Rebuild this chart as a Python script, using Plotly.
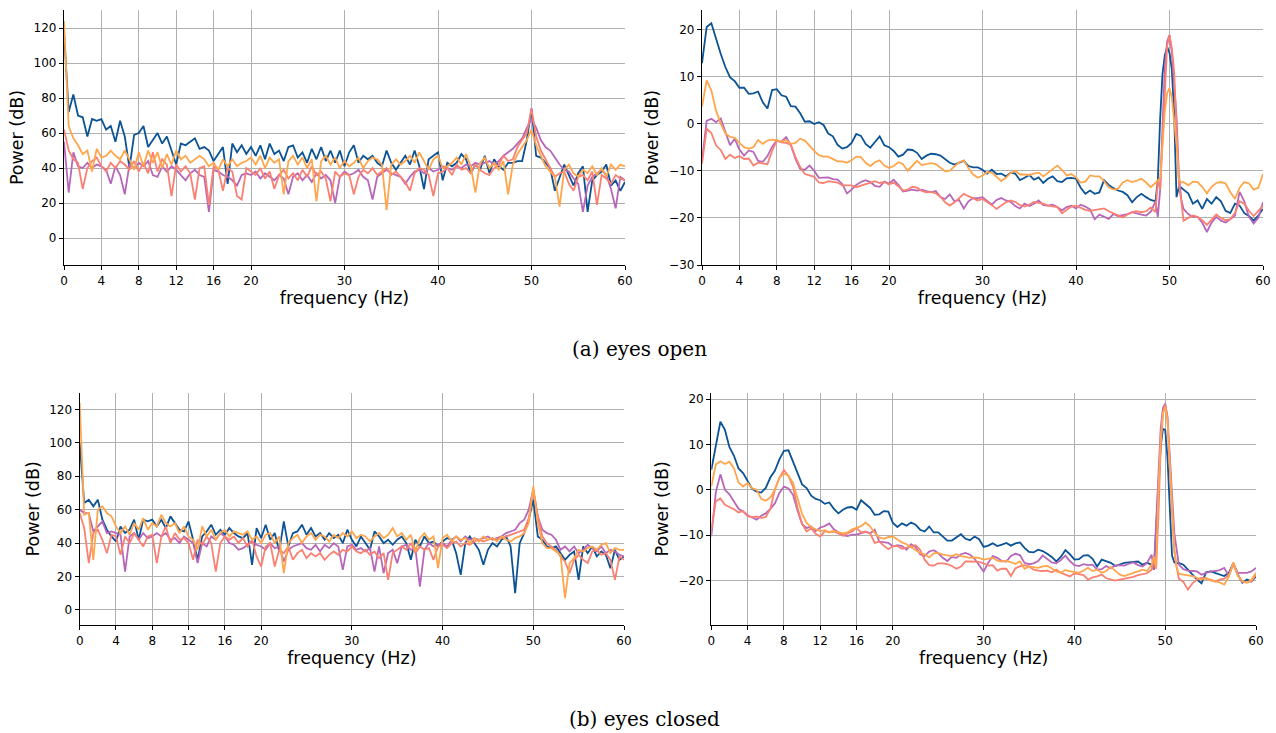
import numpy as np
import plotly.graph_objects as go

# ---------------- data ----------------
RAW_FREQ = np.arange(0, 60.001, 0.5)  # periodogram grid (Hz)
WELCH_FREQ = np.concatenate([np.arange(0, 48.001, 0.5),
                             np.arange(48.5, 51.51, 0.25),
                             np.arange(52, 60.001, 0.5)])  # welch grid (Hz)

X_TICKS = [0, 4, 8, 12, 16, 20, 30, 40, 50, 60]
SERIES_NAMES = ["s1", "s2", "s3", "s4"]

# (a) eyes open - raw periodogram
TL_BLUE = [118, 72, 82, 70, 69, 58, 68, 67, 68, 62,
           64, 55, 67, 58, 40, 59, 60, 64, 52, 56,
           60, 54, 58, 50, 42, 54, 53, 55, 57, 51,
           52, 50, 44, 48, 52, 31, 54, 49, 53, 48,
           52, 47, 53, 45, 54, 48, 50, 44, 52, 53,
           46, 49, 43, 51, 45, 52, 44, 50, 43, 50,
           41, 49, 53, 43, 47, 45, 47, 43, 41, 50,
           43, 39, 43, 47, 42, 50, 41, 28, 45, 47,
           49, 33, 43, 41, 43, 48, 45, 37, 42, 39,
           47, 37, 45, 41, 39, 43, 43, 44, 44, 56,
           74, 47, 46, 43, 40, 27, 35, 42, 36, 30,
           37, 41, 15, 33, 36, 38, 42, 30, 33, 27,
           32]
TL_PURPLE = [55, 26, 49, 41, 40, 43, 40, 42, 41, 39,
             31, 41, 36, 25, 42, 40, 43, 41, 44, 36,
             35, 41, 38, 41, 39, 36, 33, 37, 39, 36,
             35, 15, 39, 38, 36, 35, 33, 30, 36, 37,
             36, 38, 34, 37, 35, 33, 36, 34, 25, 35,
             37, 33, 36, 32, 37, 34, 36, 33, 20, 35,
             38, 36, 37, 39, 35, 33, 22, 35, 37, 39,
             37, 36, 35, 31, 35, 38, 39, 37, 40, 38,
             39, 41, 40, 39, 41, 40, 42, 41, 43, 42,
             43, 44, 42, 44, 47, 49, 51, 54, 57, 63,
             68, 63, 56, 52, 50, 46, 42, 39, 38, 34,
             31, 15, 30, 35, 37, 39, 36, 28, 17, 35,
             33]
TL_SALMON = [62, 50, 45, 43, 28, 40, 44, 46, 41, 38,
             43, 40, 44, 42, 39, 44, 38, 43, 37, 49,
             38, 45, 42, 24, 42, 38, 41, 37, 22, 40,
             41, 19, 41, 39, 27, 40, 38, 24, 22, 40,
             38, 36, 40, 34, 38, 28, 36, 39, 34, 37,
             33, 39, 35, 41, 36, 38, 34, 21, 38, 35,
             37, 36, 25, 35, 39, 37, 40, 36, 38, 40,
             36, 38, 35, 32, 27, 37, 40, 39, 36, 24,
             37, 38, 40, 36, 42, 39, 40, 37, 42, 39,
             37, 36, 40, 42, 47, 44, 45, 52, 56, 60,
             74, 58, 50, 45, 40, 35, 37, 38, 31, 27,
             35, 36, 33, 38, 19, 36, 34, 31, 36, 34,
             33]
TL_ORANGE = [124, 64, 57, 53, 48, 50, 38, 51, 46, 47,
             50, 47, 45, 50, 45, 39, 49, 41, 50, 43,
             49, 40, 48, 42, 50, 45, 47, 43, 45, 47,
             45, 41, 43, 39, 45, 41, 45, 41, 43, 44,
             46, 42, 47, 40, 46, 43, 45, 25, 44, 47,
             42, 46, 40, 45, 21, 44, 47, 42, 46, 40,
             44, 41, 43, 46, 40, 44, 46, 45, 42, 16,
             42, 45, 42, 44, 47, 43, 49, 44, 39, 45,
             47, 40, 41, 43, 46, 42, 48, 41, 26, 43,
             46, 40, 43, 39, 44, 25, 42, 48, 52, 56,
             62, 53, 47, 41, 38, 35, 18, 39, 42, 37,
             35, 39, 37, 41, 36, 40, 35, 42, 39, 42,
             41]

# (a) eyes open - welch
TR_BLUE = [12.8, 20.5, 21.3, 18, 14.8, 12, 9.8, 9, 7.6, 7.6,
           6.3, 6.4, 6.8, 4.5, 3.2, 7.1, 7.3, 6, 5.7, 3.7,
           3.6, 2.2, 0.4, 0.5, -0.1, 0.3, -0.3, -2.1, -2.7, -4.5,
           -5.3, -5, -4.1, -2.2, -2.6, -4.3, -5.1, -3.9, -2.7, -4.6,
           -5, -5.8, -7, -6.6, -5.5, -5.6, -6.2, -7.5, -6.8, -6.4,
           -6.5, -6.8, -7.5, -8.3, -8.7, -8.3, -7.9, -9, -9.3, -9.3,
           -9.8, -10.6, -9.8, -10.7, -10.6, -11.2, -10.4, -10.6, -12, -11.5,
           -10.9, -11.9, -11.4, -12.6, -11.7, -11.2, -12.2, -12.4, -11.6, -11.5,
           -11.7, -13.6, -14.9, -14.2, -14.9, -14.6, -12, -13, -13.7, -14.2,
           -14.5, -15.2, -16.7, -15.6, -14.9, -15.6, -16.2,
           -16.5, -12, 1, 10.5, 14.5, 16.3, 15, 11.5, 2, -15.6, -13.5, -13.6, -14,
           -14.8, -17, -16.3, -18.1, -16, -17, -15.6, -16.5, -18.5, -19, -17, -17.4,
           -19, -19.6, -20.6, -19.5, -18.1]
TR_PURPLE = [-7.8, 0.6, 1, 0.3, 1.1, -2, -4.6, -3.2, -5.5, -6.8,
             -5.7, -6, -7.9, -8.1, -6.9, -4.9, -3.6, -3.8, -2.9, -4.5,
             -7.5, -9.6, -9.8, -8.9, -10, -11.5, -11.5, -11.4, -11.8, -11.9,
             -12.8, -14.8, -14, -13, -12.4, -12, -12.4, -13.2, -13.4, -12.3,
             -12.7, -11.9, -13, -14.4, -14.2, -14, -14.2, -14, -14.3, -14.6,
             -14.3, -15.6, -16, -15, -16.5, -16.2, -18, -16.5, -15.8, -15.8,
             -15.6, -16.5, -17.2, -16.2, -15.8, -16.3, -16.6, -17.5, -18, -17,
             -17.5, -17, -16.3, -17.3, -17.4, -17.2, -17.7, -18.4, -17.7, -17.4,
             -18, -17.2, -17.6, -18.2, -20.3, -19.3, -19.8, -20.2, -19.2, -19.6,
             -19.4, -19.2, -18.8, -19.1, -19.3, -19.5, -18.7,
             -16.5, -19.8, -14, 0, 12, 17.5, 18.8, 15, 8.5, 1.5, -10.7, -16, -18.1,
             -19.2, -19.8, -19.8, -21, -23, -21, -19.8, -20.6, -21, -20.3, -19.5, -14.5,
             -16.5, -19.8, -21.2, -20, -16.7]
TR_SALMON = [-8.5, -1.1, -2, -4.6, -5.6, -7.5, -6.6, -7.3, -6.9, -7.5,
             -7.4, -8.9, -8.3, -8.4, -8.6, -5.8, -3.6, -4, -4.1, -4.5,
             -7.1, -9.2, -10.7, -11, -11.3, -12.5, -12.6, -12.2, -12.4, -12.5,
             -13.1, -13.1, -13.1, -13.5, -13.2, -12.9, -12.5, -12.2, -12.6, -12.4,
             -12.9, -12.5, -13.3, -14.2, -14, -13.4, -13.6, -14.3, -14.6, -14.5,
             -14.8, -15.5, -16.7, -17.4, -16.7, -15.8, -14.9, -15.4, -15.8, -16.3,
             -16, -16.6, -17.3, -18.1, -17.3, -16.7, -16.3, -16.6, -17.3, -17.6,
             -17.2, -16.6, -16.8, -17, -17.4, -17.6, -17.7, -19, -18.2, -17.6,
             -17.4, -17.9, -18.3, -18.5, -18.3, -18.2, -18, -18.6, -19, -19.5,
             -19.9, -19.3, -18.8, -18.6, -18.8, -18.6, -17.8,
             -18.8, -12, -14, -4, 8.5, 16.5, 18.7, 16, 11, -0.7, -12.8, -16.3, -20.6,
             -20, -19.5, -19.8, -20.5, -21.5, -20.5, -19.3, -20, -20.5, -20.3, -19, -16.5,
             -17, -18.5, -19.6, -18.5, -17.4]
TR_ORANGE = [3.6, 9.2, 7, 2.8, 0, -2.1, -2.8, -3, -4.1, -5,
             -5.3, -5, -3.5, -4.3, -3.6, -3.4, -3.5, -3.8, -3.5, -4.3,
             -4.1, -3.2, -3.6, -4.8, -5.8, -6.7, -7, -7, -7.5, -8,
             -8, -8.3, -7.8, -7, -7.1, -8.3, -9, -8.2, -7.8, -8.9,
             -9.4, -9, -8.2, -8.6, -10, -9, -7.9, -8.8, -8.6, -8.4,
             -8.6, -9.4, -10.1, -10, -9.2, -8.2, -7.8, -9.5, -10.8, -11.5,
             -11, -10.3, -10.4, -11.3, -12.2, -11.5, -10.5, -10, -10.8, -10.8,
             -10.9, -10.6, -10.4, -11.2, -10.4, -9.5, -8.9, -9.8, -11, -10.7,
             -11.4, -12.5, -12.3, -11, -11.2, -11.2, -12.2, -13.5, -14, -13.8,
             -12.5, -12, -12.4, -12.1, -11.7, -12.5, -13.5,
             -12.6, -12, -11.7, -3.5, 2.5, 6.5, 7.5, 5.5, 1, -4.5, -12, -12.5, -12.4,
             -13.1, -12.3, -12.4, -13.4, -14.8, -13.4, -12.6, -12.4, -12.7, -14.5, -16,
             -13.6, -12.4, -12.7, -14, -13.6, -10.7]

# (b) eyes closed - raw periodogram
BL_BLUE = [100, 64, 66, 62, 66, 54, 48, 44, 41, 50,
           46, 48, 54, 42, 54, 53, 54, 50, 54, 49,
           56, 52, 48, 47, 53, 42, 30, 44, 47, 51,
           45, 48, 45, 49, 46, 44, 43, 46, 27, 49,
           43, 51, 42, 46, 35, 53, 38, 46, 47, 51,
           45, 49, 44, 46, 42, 46, 43, 45, 40, 48,
           42, 38, 44, 40, 36, 47, 44, 40, 42, 39,
           42, 44, 40, 30, 42, 38, 44, 40, 41, 38,
           41, 43, 42, 34, 21, 40, 44, 40, 36, 27,
           36, 40, 38, 42, 44, 38, 10, 40, 46, 54,
           66, 44, 42, 38, 37, 38, 34, 30, 33, 35,
           18, 38, 34, 38, 32, 35, 33, 25, 36, 30,
           32]
BL_PURPLE = [60, 58, 58, 47, 50, 53, 46, 47, 46, 45,
             23, 44, 46, 42, 46, 43, 44, 46, 44, 46,
             42, 43, 40, 44, 42, 40, 28, 40, 38, 44,
             42, 46, 44, 40, 39, 36, 37, 39, 41, 39,
             38, 36, 40, 37, 38, 29, 36, 38, 39, 40,
             37, 36, 39, 35, 39, 37, 40, 38, 24, 38,
             39, 36, 37, 35, 37, 23, 38, 22, 34, 36,
             28, 38, 39, 36, 37, 14, 36, 40, 38, 39,
             40, 38, 42, 44, 41, 44, 42, 43, 42, 43,
             44, 42, 43, 44, 46, 47, 48, 52, 54, 60,
             72, 56, 48, 46, 45, 42, 36, 38, 35, 38,
             34, 36, 39, 37, 35, 38, 34, 36, 35, 33,
             32]
BL_SALMON = [58, 49, 28, 46, 48, 42, 34, 45, 44, 33,
             44, 40, 46, 42, 38, 44, 45, 28, 44, 50,
             40, 46, 42, 43, 40, 30, 42, 39, 44, 40,
             23, 40, 44, 42, 44, 40, 43, 38, 42, 32,
             26, 38, 40, 26, 36, 34, 38, 30, 34, 36,
             31, 34, 32, 34, 30, 33, 35, 33, 36, 35,
             38, 35, 34, 36, 33, 35, 31, 34, 18, 34,
             36, 38, 36, 40, 34, 38, 36, 37, 30, 38,
             39, 37, 40, 41, 38, 40, 39, 41, 42, 41,
             42, 43, 42, 43, 44, 45, 46, 47, 48, 55,
             72, 56, 44, 40, 38, 36, 32, 29, 22, 30,
             33, 30, 28, 35, 36, 33, 34, 30, 18, 32,
             30]
BL_ORANGE = [124, 57, 58, 30, 60, 62, 58, 56, 50, 46,
             50, 45, 52, 48, 55, 48, 52, 50, 57, 52,
             50, 52, 46, 50, 44, 42, 36, 50, 44, 48,
             42, 46, 48, 44, 47, 46, 45, 47, 42, 44,
             40, 45, 46, 40, 44, 22, 40, 43, 45, 40,
             44, 46, 42, 45, 44, 41, 45, 43, 46, 44,
             47, 43, 45, 44, 41, 44, 46, 43, 45, 49,
             44, 46, 42, 45, 35, 43, 46, 42, 44, 25,
             43, 45, 41, 44, 42, 43, 40, 43, 41, 44,
             42, 43, 41, 44, 42, 41, 43, 44, 46, 52,
             74, 52, 40, 37, 37, 35, 33, 7, 28, 31,
             36, 35, 37, 38, 36, 39, 40, 34, 37, 36,
             36]

# (b) eyes closed - welch
BR_BLUE = [4.4, 9.5, 15, 13.2, 9.4, 7.5, 4.7, 3.7, 1.8, 0.2,
           -0.4, -0.6, 0.4, 2.7, 4.2, 6.7, 8.6, 8.7, 6.2, 3.8,
           1.2, 0.4, -1.3, -2, -2.3, -3.1, -2.8, -4.2, -5.2, -4.4,
           -3.9, -3.8, -4.4, -2.3, -3.1, -4, -5.5, -5.4, -4.7, -4.8,
           -7.3, -8.2, -7.4, -7.9, -7.2, -7.7, -8.8, -9.2, -8.1, -9.4,
           -9.4, -10.3, -11.2, -11.2, -10.4, -9.8, -10.8, -11.1, -10.3, -10.9,
           -12.6, -12.3, -11.8, -12.4, -12.1, -11.7, -12.3, -11.8, -11.6, -12.8,
           -13.7, -13.8, -13.2, -13.5, -14.1, -14.8, -15.8, -14.8, -13.3, -14.2,
           -15.4, -15.3, -14.5, -14.4, -15.2, -16.9, -15.4, -15.8, -16.1, -16.8,
           -16.4, -16.1, -16, -15.9, -15.8, -16.5, -16.1,
           -16.5, -17.6, -8.8, 1, 9.5, 13.4, 13.2, 7, -3.7, -14.5, -16, -16.2, -16.1,
           -16.5, -17.6, -18.8, -19.8, -20.6, -18.2, -18, -18.3, -18.7, -19, -18.3,
           -16.2, -18.7, -20.5, -19.8, -20.2, -19.1]
BR_PURPLE = [-10.3, -0.5, 3.4, 0, -1, -2.6, -4.2, -4.8, -5.6, -6.1,
             -6.6, -5.7, -5.2, -4.2, -3, -0.7, 0.7, 0.3, -1.1, -4.6,
             -7.6, -8.4, -8.1, -9.1, -8.3, -8, -7.4, -8.7, -9.3, -10,
             -10.2, -9.9, -9.9, -9.6, -9.3, -9.6, -8.8, -11.4, -11.5, -11.7,
             -12.5, -12.2, -12.4, -13.2, -12, -12.6, -14.2, -14.6, -13.6, -13.3,
             -14, -15, -15.7, -14.8, -15, -14.2, -13.9, -14.3, -15.2, -16.6,
             -18, -16.1, -14.6, -15, -15.7, -15.8, -14.6, -14.1, -14.4, -16.1,
             -16.4, -16.2, -15.7, -14.5, -15.3, -16, -16.2, -15.5, -14.5, -15.7,
             -16.6, -16.8, -16.4, -16.6, -16.5, -17.6, -17.5, -16.8, -17.3, -16.7,
             -16.6, -16.7, -16.3, -16, -16.6, -16.9, -16.1,
             -14.3, -17.6, -6.6, 4, 13.5, 18, 19, 16.2, 7.3, -3, -9.5, -13, -16.5,
             -17.5, -17.8, -17.9, -18, -18.7, -18.3, -18, -17.9, -17.7, -17.2, -19,
             -16.2, -18.3, -18.3, -18.3, -18, -17.2]
BR_SALMON = [-8.8, -2.5, -1.9, -3.3, -3.8, -4.3, -5, -4.7, -5.8, -6,
             -5.9, -6.2, -6, -4.2, 0, 2.6, 4.4, 3, 0.7, -4,
             -7.5, -9.2, -8.5, -9.7, -10.3, -9.1, -9.3, -9.2, -9.6, -10.1,
             -9.6, -9.2, -8.4, -9.4, -9.2, -9.6, -11.7, -11.4, -12.3, -13.1,
             -12.4, -12.4, -13, -12.8, -12.5, -12.2, -13.2, -15.4, -16.6, -16.7,
             -16.2, -16.2, -16.4, -16.8, -17.4, -16.9, -15.8, -15.8, -15.8, -15.9,
             -16.2, -16.7, -16.6, -17.8, -17.4, -17.4, -19, -17.3, -16.9, -16.6,
             -16.9, -17.6, -17.8, -17.9, -17.8, -18.2, -17.6, -18.3, -18.7, -19.1,
             -18.4, -18.6, -18.8, -19.8, -19.3, -19.1, -18.7, -19.5, -19.7, -20,
             -19.8, -19.6, -19.4, -19.2, -18.8, -18.6, -18.4,
             -17.6, -15.4, -16.9, -6, 9.5, 16.8, 18.7, 15.5, 5.1, -5, -13.5, -16.9, -19.6,
             -20.3, -22, -20.6, -19.8, -19.4, -19.6, -19.8, -20.2, -19.8, -19.6, -18.8,
             -16.5, -18.8, -20.3, -20.4, -20.2, -18.7]
BR_ORANGE = [0.7, 5.6, 6.3, 5.7, 6.2, 4.7, 1.6, 0.7, 1.5, 0.3,
             0, -2, -2.4, -1.7, 0, 2.7, 3.6, 3.1, 1.5, -2.2,
             -5.3, -7.3, -8.2, -8.7, -9.1, -8.9, -9.4, -9.1, -9.4, -9.6,
             -9.4, -8.7, -8.4, -8, -7.2, -8.1, -9.5, -10.5, -10.8, -10.4,
             -10.3, -10.9, -11.6, -12, -12.6, -13.2, -13.9, -14.2, -14.9, -14,
             -13.9, -14.3, -14.4, -14.6, -14.2, -14.6, -14.8, -15, -14.9, -15,
             -15.4, -15.2, -15, -15.6, -15.8, -15.6, -16, -16.3, -15.8, -17.4,
             -16.9, -17, -17.2, -16.9, -16.8, -17.3, -18, -18.3, -17.7, -17.9,
             -18.1, -18.3, -17.8, -17.2, -17.9, -17.6, -18.3, -17.9, -17, -17.9,
             -18.7, -19, -18.6, -18.3, -18, -17.6, -17.9,
             -16.5, -14.7, -17.5, 0, 11, 17, 18.3, 15.5, 6.6, -5, -13.2, -17, -18.5,
             -18.7, -18.8, -19, -19.4, -19.8, -19.4, -20, -20.2, -20.4, -20.9, -19.2,
             -16, -19, -20.1, -20.5, -19.8, -18.3]

CAPTIONS = ["(a) eyes open", "(b) eyes closed"]

# ---------------- styling ----------------
COLORS = ["#0b5394", "#b767b9", "#fa8072", "#ffa64d"]
GRID = "#b0b0b0"
TICK_FONT = dict(family="DejaVu Sans", size=12, color="black")
TITLE_FONT = dict(family="DejaVu Sans", size=17.5, color="black")
CAP_FONT = dict(family="DejaVu Serif", size=20, color="black")

W, H = 1276, 733
panels = [
    dict(x=RAW_FREQ, ys=[TL_BLUE, TL_PURPLE, TL_SALMON, TL_ORANGE],
         xdom=[64 / W, 625 / W], ydom=[1 - 265 / H, 1 - 10 / H],
         yrange=[-15.4, 130.3], yticks=[0, 20, 40, 60, 80, 100, 120]),
    dict(x=WELCH_FREQ, ys=[TR_BLUE, TR_PURPLE, TR_SALMON, TR_ORANGE],
         xdom=[702 / W, 1263 / W], ydom=[1 - 265 / H, 1 - 10 / H],
         yrange=[-30, 24.1], yticks=[-30, -20, -10, 0, 10, 20]),
    dict(x=RAW_FREQ, ys=[BL_BLUE, BL_PURPLE, BL_SALMON, BL_ORANGE],
         xdom=[79.7 / W, 624 / W], ydom=[1 - 625 / H, 1 - 392.7 / H],
         yrange=[-9, 130], yticks=[0, 20, 40, 60, 80, 100, 120]),
    dict(x=WELCH_FREQ, ys=[BR_BLUE, BR_PURPLE, BR_SALMON, BR_ORANGE],
         xdom=[711.3 / W, 1256 / W], ydom=[1 - 625 / H, 1 - 392.7 / H],
         yrange=[-29.8, 21.4], yticks=[-20, -10, 0, 10, 20]),
]

fig = go.Figure()
layout = {}
for i, p in enumerate(panels, start=1):
    xa = "x" if i == 1 else f"x{i}"
    ya = "y" if i == 1 else f"y{i}"
    for ys, col, name in zip(p["ys"], COLORS, SERIES_NAMES):
        assert len(ys) == len(p["x"]), (i, name, len(ys), len(p["x"]))
        fig.add_trace(go.Scatter(x=p["x"], y=ys, mode="lines", name=name,
                                 line=dict(color=col, width=1.8),
                                 xaxis=xa, yaxis=ya, showlegend=False))
    common = dict(showgrid=True, gridcolor=GRID, gridwidth=1, zeroline=False,
                  showline=True, linecolor="black", linewidth=1.3, mirror=False,
                  ticks="outside", ticklen=4, tickwidth=1.2, tickcolor="black",
                  tickfont=TICK_FONT, automargin=False)
    layout["xaxis" if i == 1 else f"xaxis{i}"] = dict(
        common, domain=p["xdom"], range=[0, 60], tickvals=X_TICKS,
        ticktext=[str(t) for t in X_TICKS], anchor=ya,
        title=dict(text="frequency (Hz)", font=TITLE_FONT, standoff=5))
    layout["yaxis" if i == 1 else f"yaxis{i}"] = dict(
        common, domain=p["ydom"], range=p["yrange"], tickvals=p["yticks"],
        anchor=xa, title=dict(text="Power (dB)", font=TITLE_FONT, standoff=5))

fig.update_layout(**layout)
fig.update_layout(width=W, height=H, margin=dict(l=0, r=0, t=0, b=0, pad=0),
                  paper_bgcolor="white", plot_bgcolor="white", showlegend=False,
                  annotations=[
                      dict(text=CAPTIONS[0], x=640 / W, y=1 - 349 / H,
                           xref="paper", yref="paper", showarrow=False,
                           xanchor="center", yanchor="middle", font=CAP_FONT),
                      dict(text=CAPTIONS[1], x=645 / W, y=1 - 719 / H,
                           xref="paper", yref="paper", showarrow=False,
                           xanchor="center", yanchor="middle", font=CAP_FONT),
                  ])
fig.write_html("out.html", config={"displayModeBar": False},
               post_script="document.body.style.margin='0';document.body.style.padding='0';")
